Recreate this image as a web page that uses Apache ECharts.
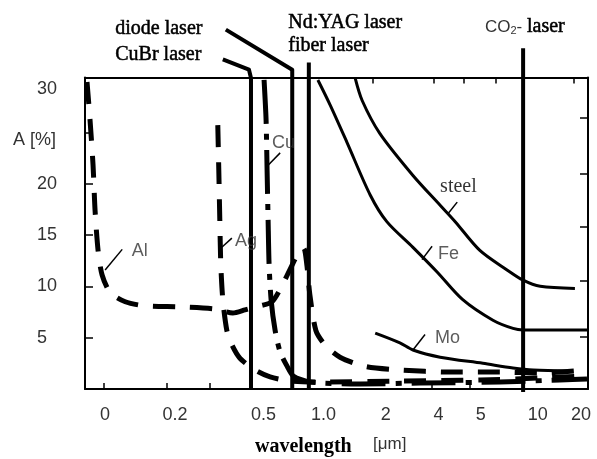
<!DOCTYPE html>
<html><head><meta charset="utf-8">
<script src="https://cdn.jsdelivr.net/npm/echarts@6/dist/echarts.min.js"></script>
<style>html,body{margin:0;padding:0;background:#fff}#c{width:597px;height:459px}</style>
</head><body><div id="c"></div>
<script>
// x = position along the printed (piecewise) wavelength axis, 0..100
const xTickLabels = ['0', '0.2', '0.5', '1.0', '2', '4', '5', '10', '20'];
const xTickLabelPos = [4.0, 17.9, 35.5, 47.4, 59.8, 70.3, 78.7, 90.0, 98.6];
const xBottomTicks = [3.8, 16.3, 24.9, 69.0, 76.5];
const xTopTicks = [57.2, 69.3, 75.3, 81.7, 97.2];
const yTickValues = [5, 10, 15, 20, 25];
const yLabelValues = [5, 10, 15, 20, 29.2];
const yRightTicks = [5.1, 10.5, 15.8, 21.0, 26.4];

// absorption A [%] curves (x = axis position, y = A)
const al = [[0.4,29.9],[1.0,26.2],[1.6,21.8],[2.0,17.4],[2.6,13.5],[3.4,11.1],[5.0,9.4],[8.0,8.5],[11.9,8.1],[18.9,8.0],[25.8,7.8],[29.4,7.4],[31.8,7.7],[34.8,8.1],[37.2,8.5],[39.2,10.1],[41.2,12.1],[42.7,13.5],[43.5,13.7],[44.1,12.1],[44.7,9.2],[45.9,5.7],[47.7,4.3],[50.7,3.1],[55.7,2.2],[62.6,1.85],[72.6,1.65],[82.5,1.65],[90.5,1.55],[99.8,1.85]];
const ag = [[26.4,25.7],[26.6,21.3],[26.8,16.5],[27.0,12.1],[27.4,8.7],[28.2,5.7],[29.2,4.3],[30.8,3.0],[33.8,1.85],[36.8,1.17],[40.8,0.78],[46.7,0.68],[62.6,0.78],[78.5,0.88],[90.5,1.07],[99.8,1.27]];
const cu = [[35.6,30.1],[36.0,26.2],[36.2,21.3],[36.4,16.5],[36.6,12.1],[37.0,8.7],[37.8,5.7],[38.8,3.6],[40.2,2.2],[41.4,1.27],[44.7,0.68],[54.7,0.49],[66.6,0.58],[82.5,0.68],[94.4,0.88],[99.8,0.97]];
const fe = [[46.3,30.1],[48.7,27.7],[52.1,24.0],[56.7,18.9],[60.0,16.3],[65.2,13.8],[70.0,11.4],[75.1,8.7],[81.1,6.7],[85.1,5.9],[87.1,5.75],[100,5.75]];
const steel = [[53.7,30.3],[55.1,28.1],[58.6,24.9],[65.2,20.8],[70.6,17.9],[73.6,16.3],[78.5,13.5],[83.9,11.6],[87.1,10.6],[90.5,10.0],[97.4,9.8]];
const mo = [[57.7,5.45],[62.6,4.5],[65.2,3.8],[70.6,3.1],[79.1,2.5],[85.1,2.05],[89.1,1.85],[96.4,1.75]];

// laser wavelength markers (with leader to their names)
const cubrLaser = [[27.4,32.1],[32.6,31.1],[33.0,30.3],[33.0,0]];
const diodeLaser = [[28.0,35.0],[41.2,31.1],[41.2,0]];
const ndyagLaser = [[44.5,31.8],[44.5,0]];
const co2Laser = [[87.1,33.2],[87.1,-0.3]];

// curve name labels and leaders
const metalNames = ['Al', 'Ag', 'Cu', 'Fe', 'steel', 'Mo'];
const metalLabelPos = [[9.3,13.4],[29.8,14.4],[37.2,24.0],[70.2,13.1],[70.6,19.7],[69.6,5.0]];
const metalLeaders = [
  [[4.0,11.6],[7.4,13.6]],
  [[27.2,13.8],[29.2,14.7]],
  [[36.4,21.8],[38.8,23.0]],
  [[67.0,12.6],[69.0,13.9]],
  [[72.2,17.1],[74.0,18.2]],
  [[65.2,3.8],[67.6,5.3]]
];

const chart = echarts.init(document.getElementById('c'), null, {renderer: 'canvas'});
const SANS = 'Liberation Sans, Arial, sans-serif';
const SERIF = 'Liberation Serif, Times New Roman, serif';

function curve(name, data, width, dash, smooth) {
  return {name, type: 'line', data, showSymbol: false, symbol: 'none', clip: false,
    smooth: smooth, animation: false, z: 3,
    lineStyle: {color: '#000', width, type: dash, cap: 'butt', join: 'round'}};
}

const series = [
  curve('Al', al, 5, [22, 15], 0.25),
  curve('Ag', ag, 5, [22, 15], 0.25),
  curve('Cu', cu, 5, [44, 10, 6, 10], 0.25),
  curve('Fe', fe, 3, 'solid', 0.3),
  curve('steel', steel, 3, 'solid', 0.3),
  curve('Mo', mo, 3, 'solid', 0.3),
  curve('CuBr laser', cubrLaser, 4, 'solid', false),
  curve('diode laser', diodeLaser, 4, 'solid', false),
  curve('Nd:YAG laser', ndyagLaser, 4, 'solid', false),
  curve('CO2 laser', co2Laser, 4, 'solid', false)
];
metalLeaders.forEach((seg, i) => series.push(curve('leader ' + metalNames[i], seg, 1.5, 'solid', false)));
series.push({
  type: 'scatter', symbolSize: 0, animation: false, clip: false, z: 5,
  data: metalNames.map((n, i) => ({name: n, value: metalLabelPos[i],
    label: n === 'steel' ? {fontFamily: SERIF, fontSize: 20, color: '#000'} : {}})),
  label: {show: true, position: 'right', distance: 0, formatter: '{b}',
    fontFamily: SANS, fontSize: 18, color: '#333'}
});

const option = {
  backgroundColor: '#fff',
  animation: false,
  grid: {left: 85, right: 9, top: 77.5, bottom: 70, containLabel: false},
  xAxis: [{
    type: 'value', min: 0, max: 100, position: 'bottom',
    axisLine: {show: true, onZero: false, lineStyle: {color: '#000', width: 2}},
    axisTick: {show: true, inside: true, length: 6, customValues: xBottomTicks, lineStyle: {color: '#000', width: 1.5}},
    axisLabel: {show: true, customValues: xTickLabelPos, margin: 17,
      fontFamily: SANS, fontSize: 18, color: '#333',
      formatter: v => {
        let k = 0, best = 1e9;
        xTickLabelPos.forEach((p, i) => { if (Math.abs(p - v) < best) { best = Math.abs(p - v); k = i; } });
        return xTickLabels[k];
      }},
    splitLine: {show: false}
  }, {
    type: 'value', min: 0, max: 100, position: 'top',
    axisLine: {show: true, onZero: false, lineStyle: {color: '#000', width: 2}},
    axisTick: {show: true, inside: true, length: 6, customValues: xTopTicks, lineStyle: {color: '#000', width: 1.5}},
    axisLabel: {show: false}, splitLine: {show: false}
  }],
  yAxis: [{
    type: 'value', min: 0, max: 30.34, position: 'left',
    axisLine: {show: true, onZero: false, lineStyle: {color: '#000', width: 2}},
    axisTick: {show: true, inside: true, length: 8, customValues: yTickValues, lineStyle: {color: '#000', width: 1.5}},
    axisLabel: {show: true, customValues: yLabelValues, align: 'left', margin: 48,
      fontFamily: SANS, fontSize: 18, color: '#333',
      formatter: v => String(Math.round(v / 5) * 5)},
    splitLine: {show: false}
  }, {
    type: 'value', min: 0, max: 30.34, position: 'right',
    axisLine: {show: true, onZero: false, lineStyle: {color: '#000', width: 2}},
    axisTick: {show: true, inside: true, length: 8, customValues: yRightTicks, lineStyle: {color: '#000', width: 1.5}},
    axisLabel: {show: false}, splitLine: {show: false}
  }],
  graphic: [
    {type: 'text', left: 13, top: 131, style: {text: 'A [%]', font: '18px ' + SANS, fill: '#333'}},
    {type: 'text', left: 115, top: 18, style: {text: 'diode laser', font: '20px ' + SERIF, fill: '#000', stroke: '#000', lineWidth: 0.5}},
    {type: 'text', left: 115, top: 44, style: {text: 'CuBr laser', font: '20px ' + SERIF, fill: '#000', stroke: '#000', lineWidth: 0.5}},
    {type: 'text', left: 288, top: 12, style: {text: 'Nd:YAG laser', font: '20px ' + SERIF, fill: '#000', stroke: '#000', lineWidth: 0.5}},
    {type: 'text', left: 288, top: 35, style: {text: 'fiber laser', font: '20px ' + SERIF, fill: '#000', stroke: '#000', lineWidth: 0.5}},
    {type: 'text', left: 485, top: 16, style: {
      text: '{a|CO}{s|2}{a|- }{b|laser}',
      rich: {
        a: {fontFamily: SANS, fontSize: 17, fill: '#333', verticalAlign: 'bottom'},
        s: {fontFamily: SANS, fontSize: 11, fill: '#333', padding: [6, 0, 0, 0], verticalAlign: 'bottom'},
        b: {fontFamily: SERIF, fontSize: 20, fill: '#000', stroke: '#000', lineWidth: 0.5, verticalAlign: 'bottom'}
      }}},
    {type: 'text', left: 255, top: 437, style: {text: 'wavelength', font: 'bold 20px ' + SERIF, fill: '#000'}},
    {type: 'text', left: 373, top: 436, style: {text: '[\u03bcm]', font: '17px ' + SANS, fill: '#333'}}
  ],
  series
};
chart.setOption(option);
</script>
</body></html>
